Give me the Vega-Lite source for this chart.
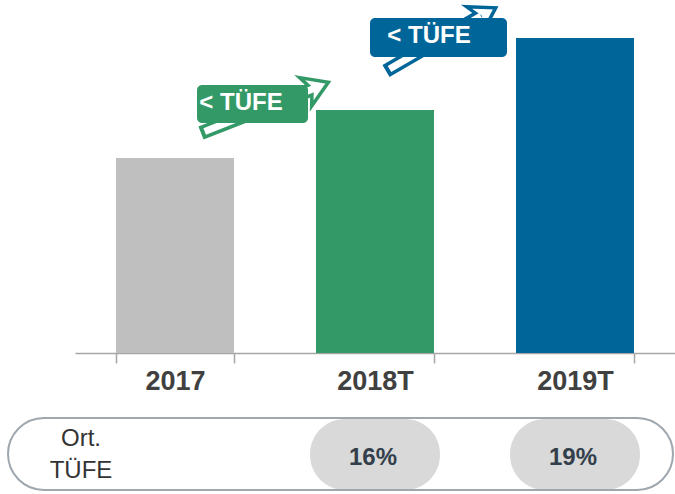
{
  "$schema": "https://vega.github.io/schema/vega-lite/v6.json",
  "width": 675,
  "height": 494,
  "padding": 0,
  "autosize": {"type": "none"},
  "config": {"view": {"stroke": null}, "font": "Liberation Sans, Arial, sans-serif"},
  "resolve": {"scale": {"x": "independent"}},
  "layer": [
    {
      "data": {"values": [
        {"year": "2017", "value": 195, "tufe": null},
        {"year": "2018T", "value": 243, "tufe": "16%"},
        {"year": "2019T", "value": 315, "tufe": "19%"}
      ]},
      "encoding": {
        "x": {
          "field": "year", "type": "nominal", "sort": null,
          "scale": {"range": [75, 675], "paddingInner": 0.41, "paddingOuter": 0.205},
          "axis": {
            "orient": "bottom", "offset": -141, "title": null, "labelAngle": 0,
            "domainColor": "#a6a6a6", "domainWidth": 1.5,
            "tickColor": "#a6a6a6", "tickWidth": 1.5, "tickSize": 10, "tickBand": "extent",
            "labelFontSize": 27, "labelFontWeight": "bold", "labelColor": "#404040", "labelPadding": 5
          }
        }
      },
      "layer": [
        {
          "mark": {"type": "bar"},
          "encoding": {
            "y": {"field": "value", "type": "quantitative", "scale": {"domain": [-141, 353], "nice": false, "zero": false}, "axis": null},
            "y2": {"datum": 0},
            "color": {"field": "year", "type": "nominal", "scale": {"domain": ["2017", "2018T", "2019T"], "range": ["#bfbfbf", "#339966", "#006699"]}, "legend": null}
          }
        },
        {
          "transform": [{"filter": "datum.tufe != null"}],
          "mark": {"type": "bar", "width": 130, "cornerRadius": 35, "color": "#d9d9d9"},
          "encoding": {
            "y": {"datum": -66, "type": "quantitative"},
            "y2": {"datum": -137}
          }
        },
        {
          "transform": [{"filter": "datum.tufe != null"}],
          "mark": {"type": "text", "fontSize": 24, "fontWeight": "bold", "color": "#333f4a", "baseline": "middle", "dx": -2},
          "encoding": {
            "text": {"field": "tufe"},
            "y": {"datum": -105, "type": "quantitative"}
          }
        }
      ]
    },
    {
      "data": {"values": [{}]},
      "layer": [
        {
          "mark": {"type": "rule", "color": "#339966", "strokeWidth": 14, "strokeCap": "butt"},
          "encoding": {
            "x": {"datum": 0.63, "type": "quantitative", "scale": {"domain": [-0.375, 3], "nice": false, "zero": false}, "axis": null},
            "y": {"datum": 220, "type": "quantitative"},
            "x2": {"datum": 1.19},
            "y2": {"datum": 264}
          }
        },
        {
          "mark": {"type": "point", "shape": "M-0.8,-1L0.8,0L-0.8,1L-0.35,0Z", "filled": true, "fill": "white", "stroke": "#339966", "strokeWidth": 3.5, "strokeJoin": "miter", "size": 950, "angle": -23, "opacity": 1},
          "encoding": {
            "x": {"datum": 1.21, "type": "quantitative"},
            "y": {"datum": 266, "type": "quantitative"}
          }
        },
        {
          "mark": {"type": "rule", "color": "white", "strokeWidth": 7, "strokeCap": "butt"},
          "encoding": {
            "x": {"datum": 0.6485, "type": "quantitative"},
            "y": {"datum": 221.6, "type": "quantitative"},
            "x2": {"datum": 1.195},
            "y2": {"datum": 264.5}
          }
        },
        {
          "mark": {"type": "rect", "color": "#339966", "cornerRadius": 5},
          "encoding": {
            "x": {"datum": 0.61, "type": "quantitative"},
            "x2": {"datum": 1.165},
            "y": {"datum": 268, "type": "quantitative"},
            "y2": {"datum": 230}
          }
        },
        {
          "mark": {"type": "text", "text": "< TÜFE", "color": "white", "fontSize": 24, "fontWeight": "bold", "baseline": "middle"},
          "encoding": {
            "x": {"datum": 0.83, "type": "quantitative"},
            "y": {"datum": 250, "type": "quantitative"}
          }
        },
        {
          "mark": {"type": "rule", "color": "#006699", "strokeWidth": 14, "strokeCap": "butt"},
          "encoding": {
            "x": {"datum": 1.555, "type": "quantitative"},
            "y": {"datum": 282, "type": "quantitative"},
            "x2": {"datum": 2.02},
            "y2": {"datum": 336}
          }
        },
        {
          "mark": {"type": "point", "shape": "M-0.8,-1L0.8,0L-0.8,1L-0.35,0Z", "filled": true, "fill": "white", "stroke": "#006699", "strokeWidth": 3.5, "strokeJoin": "miter", "size": 950, "angle": -30, "opacity": 1},
          "encoding": {
            "x": {"datum": 2.05, "type": "quantitative"},
            "y": {"datum": 339, "type": "quantitative"}
          }
        },
        {
          "mark": {"type": "rule", "color": "white", "strokeWidth": 7, "strokeCap": "butt"},
          "encoding": {
            "x": {"datum": 1.5725, "type": "quantitative"},
            "y": {"datum": 284, "type": "quantitative"},
            "x2": {"datum": 2.03},
            "y2": {"datum": 337}
          }
        },
        {
          "mark": {"type": "rect", "color": "#006699", "cornerRadius": 5},
          "encoding": {
            "x": {"datum": 1.475, "type": "quantitative"},
            "x2": {"datum": 2.16},
            "y": {"datum": 335, "type": "quantitative"},
            "y2": {"datum": 296}
          }
        },
        {
          "mark": {"type": "text", "text": "< TÜFE", "color": "white", "fontSize": 24, "fontWeight": "bold", "baseline": "middle"},
          "encoding": {
            "x": {"datum": 1.77, "type": "quantitative"},
            "y": {"datum": 317, "type": "quantitative"}
          }
        },
        {
          "mark": {"type": "rect", "filled": false, "stroke": "#9ea6ae", "strokeWidth": 2, "cornerRadius": 36},
          "encoding": {
            "x": {"datum": -0.335, "type": "quantitative"},
            "x2": {"datum": 2.99},
            "y": {"datum": -65, "type": "quantitative"},
            "y2": {"datum": -137}
          }
        },
        {
          "mark": {"type": "text", "text": ["Ort.", "TÜFE"], "color": "#333333", "fontSize": 24, "lineHeight": 32, "baseline": "middle"},
          "encoding": {
            "x": {"datum": 0.03, "type": "quantitative"},
            "y": {"datum": -86, "type": "quantitative"}
          }
        }
      ]
    }
  ]
}
